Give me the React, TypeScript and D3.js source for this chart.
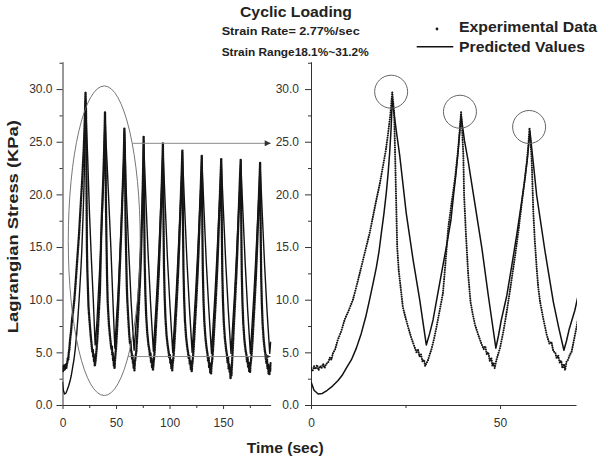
import { useEffect, useRef } from "react";
import * as d3 from "d3";

type Pt = [number, number]; // [time (s), stress (KPa)]

// experimental points, first 70 s (also shown in the zoomed panel)
const experimentalEarly: Pt[] = [
  [0, 3.5], [0.4, 3.2], [0.8, 3.7], [1.2, 3.4], [1.6, 3.8], [2.0, 3.3], [2.4, 3.7], [2.8, 3.5],
  [3.2, 3.9], [3.6, 3.5], [4.0, 3.9], [4.5, 4.0], [5.0, 4.5], [5.4, 4.3], [5.8, 4.9], [6.4, 5.3],
  [7.1, 6.2], [8.0, 7.0], [8.9, 8.1], [10.0, 9.0], [11.1, 10.0], [12.2, 11.5], [13.3, 13.1],
  [14.4, 14.7], [15.5, 16.3], [16.4, 17.9], [17.3, 19.5], [18.2, 21.0], [19.0, 22.6], [19.8, 24.2],
  [20.4, 25.8], [21.0, 27.6], [21.5, 29.7],
  [22.0, 27.7], [22.3, 23.0], [22.6, 18.2], [22.8, 15.0], [23.2, 12.8], [23.7, 11.2], [24.3, 9.3],
  [25.0, 8.3], [25.7, 7.4], [26.5, 6.4], [27.4, 5.5], [27.9, 5.0], [28.3, 5.3], [28.7, 4.6],
  [29.1, 4.8], [29.5, 4.1], [29.9, 4.3], [30.2, 3.7], [30.6, 4.0], [31.0, 4.3], [31.4, 4.8],
  [31.8, 5.2], [32.5, 6.2], [33.2, 7.4], [34.0, 8.9], [34.9, 10.6], [35.6, 13.6], [36.3, 16.8],
  [37.2, 19.2], [38.1, 21.5], [38.9, 24.2], [39.4, 26.3], [39.7, 27.8],
  [40.0, 26.0], [40.3, 23.7], [40.5, 19.9], [41.0, 16.1], [41.6, 12.3], [42.2, 9.8], [42.8, 8.6],
  [43.4, 7.6], [44.3, 6.6], [45.2, 5.7], [45.7, 5.3], [46.1, 5.6], [46.5, 4.8], [46.9, 5.0],
  [47.3, 4.2], [47.7, 4.5], [48.0, 3.7], [48.3, 4.0], [48.6, 3.5], [49.0, 4.2], [49.4, 4.7],
  [50.0, 5.4], [50.9, 7.0], [51.8, 8.9], [52.9, 11.5], [54.0, 14.2], [54.9, 16.6], [55.7, 19.0],
  [56.4, 21.0], [57.1, 23.1], [57.5, 24.7], [57.8, 26.3],
  [58.1, 25.0], [58.4, 23.1], [58.8, 18.4], [59.2, 15.6], [59.7, 13.0], [60.1, 11.2], [60.6, 9.8],
  [61.5, 8.1], [62.4, 6.6], [63.1, 5.8], [63.6, 6.0], [64.1, 5.1], [64.6, 5.0], [65.0, 4.4],
  [65.4, 4.7], [65.8, 4.0], [66.2, 4.2], [66.5, 3.5], [66.9, 3.9], [67.2, 3.3], [67.6, 4.1],
  [68.0, 4.3], [68.5, 4.8], [68.9, 5.0], [69.3, 5.7], [69.8, 6.6], [70.3, 7.5],
];

// experimental points, 70 s to the end (full-range panel only)
const experimentalLate: Pt[] = [
  [71.2, 9.2], [72.2, 11.3], [73.2, 13.8], [74.0, 16.6], [74.7, 19.5], [75.3, 22.3], [75.8, 25.5],
  [76.1, 22.0], [76.4, 17.5], [76.8, 13.5], [77.4, 10.6], [78.2, 8.4], [79.2, 6.8], [80.3, 5.7],
  [81.2, 5.2], [81.7, 4.6], [82.2, 4.9], [82.7, 4.1], [83.2, 4.4], [83.7, 3.6], [84.1, 3.9],
  [84.5, 3.3], [84.9, 3.8], [85.4, 4.3], [86.0, 5.0], [86.8, 6.4], [87.7, 8.2],
  [88.7, 10.0], [89.8, 12.3], [90.8, 14.9], [91.7, 17.6], [92.5, 20.1], [93.2, 22.5], [93.8, 24.85],
  [94.1, 21.5], [94.4, 17.0], [94.8, 13.2], [95.4, 10.4], [96.2, 8.2], [97.2, 6.6], [98.3, 5.6],
  [99.2, 5.0], [99.7, 4.5], [100.2, 4.8], [100.7, 4.0], [101.2, 4.3], [101.7, 3.5], [102.1, 3.8],
  [102.5, 3.3], [102.9, 3.9], [103.4, 4.3], [104.0, 5.0], [104.8, 6.3], [105.7, 8.0],
  [106.7, 9.8], [107.8, 12.1], [108.8, 14.6], [109.7, 17.2], [110.5, 19.6], [111.3, 22.0], [112.0, 24.2],
  [112.3, 21.0], [112.6, 16.6], [113.0, 12.9], [113.6, 10.2], [114.4, 8.0], [115.4, 6.5], [116.5, 5.5],
  [117.4, 4.9], [117.9, 4.4], [118.4, 4.7], [118.9, 3.9], [119.4, 4.2], [119.9, 3.4], [120.3, 3.7],
  [120.7, 3.2], [121.1, 3.8], [121.6, 4.2], [122.2, 4.9], [123.0, 6.2], [123.9, 7.9],
  [124.9, 9.7], [126.0, 12.0], [127.0, 14.4], [127.9, 17.0], [128.7, 19.4], [129.5, 21.7], [130.1, 23.7],
  [130.4, 20.6], [130.7, 16.3], [131.1, 12.7], [131.7, 10.0], [132.5, 7.9], [133.5, 6.4], [134.6, 5.4],
  [135.5, 4.8], [136.0, 4.2], [136.5, 4.6], [137.0, 3.6], [137.5, 4.0], [138.0, 3.1], [138.4, 3.6],
  [138.8, 3.0], [139.2, 3.7], [139.7, 4.1], [140.3, 4.8], [141.1, 6.1], [142.0, 7.8],
  [143.0, 9.6], [144.1, 11.9], [145.1, 14.3], [146.0, 16.9], [146.8, 19.2], [147.6, 21.5], [148.3, 23.4],
  [148.6, 20.3], [148.9, 16.1], [149.3, 12.5], [149.9, 9.9], [150.7, 7.8], [151.7, 6.3], [152.8, 5.3],
  [153.7, 4.7], [154.2, 4.0], [154.7, 4.5], [155.2, 3.4], [155.7, 3.9], [156.2, 3.1], [156.6, 3.5],
  [157.0, 2.5], [157.4, 3.6], [157.8, 2.8], [158.4, 4.0], [159.2, 5.6], [160.1, 7.6],
  [161.1, 9.6], [162.2, 11.9], [163.2, 14.3], [164.1, 16.8], [164.9, 19.1], [165.7, 21.4], [166.5, 23.3],
  [166.8, 20.2], [167.1, 16.0], [167.5, 12.4], [168.1, 9.8], [168.9, 7.7], [169.9, 6.2], [171.0, 5.2],
  [171.9, 4.7], [172.4, 4.1], [172.9, 4.5], [173.4, 3.6], [173.9, 4.0], [174.4, 3.2], [174.8, 3.7],
  [175.2, 3.1], [175.6, 3.8], [176.1, 4.2], [176.7, 4.9], [177.5, 6.1], [178.4, 7.8],
  [179.4, 9.6], [180.5, 11.8], [181.5, 14.2], [182.4, 16.7], [183.2, 19.0], [184.0, 21.2], [184.6, 23.0],
  [184.9, 20.0], [185.2, 15.9], [185.6, 12.3], [186.2, 9.7], [187.0, 7.6], [188.0, 6.1], [189.1, 5.1],
  [190.0, 4.6], [190.5, 4.0], [191.0, 4.4], [191.5, 3.5], [192.0, 3.9], [192.5, 3.0], [192.9, 3.6],
  [193.3, 2.9], [193.7, 3.7], [194.1, 3.2], [194.5, 4.0],
];

// model prediction, first 70 s
const predictedEarly: Pt[] = [
  [0, 2.2], [0.8, 1.4], [1.9, 1.05], [3.0, 1.1], [4.3, 1.4], [5.7, 1.8], [7.1, 2.3], [8.2, 2.8],
  [9.5, 3.6], [10.7, 4.3], [12.0, 5.4], [13.3, 6.8], [14.5, 8.4], [15.5, 10.0], [16.5, 11.7],
  [17.3, 13.1], [18.0, 14.6], [18.6, 16.3], [19.3, 18.2], [19.9, 20.1], [20.4, 22.0], [20.8, 23.9],
  [21.2, 26.3], [21.5, 29.0],
  [22.5, 26.2], [23.5, 23.6], [25.2, 18.2], [27.0, 13.8], [28.75, 10.0], [30.5, 5.7],
  [31.4, 6.8], [32.3, 8.1], [34.1, 11.7], [35.9, 15.2], [37.0, 17.5], [37.7, 19.9], [38.3, 21.8],
  [38.9, 24.0], [39.7, 27.5],
  [40.6, 25.1], [41.6, 23.1], [43.4, 19.0], [45.2, 14.9], [46.9, 10.4], [48.9, 5.4],
  [49.6, 6.6], [50.3, 8.0], [51.8, 10.4], [53.1, 13.2], [54.4, 16.1], [55.6, 19.0], [56.6, 21.5],
  [57.3, 23.6], [57.9, 26.0],
  [58.8, 23.0], [59.7, 19.9], [61.9, 14.6], [64.1, 9.8], [65.5, 7.4], [66.9, 5.2],
  [67.6, 6.1], [68.3, 7.2], [69.8, 9.0],
];

// model prediction, 70 s to the end
const predictedLate: Pt[] = [
  [71.5, 11.8], [73.2, 15.4], [74.5, 19.0], [75.3, 22.0], [75.8, 25.1],
  [77.8, 19.8], [80.0, 14.3], [82.3, 9.6], [84.9, 5.1],
  [86.5, 7.9], [88.2, 10.9], [90.0, 14.6], [91.6, 18.4], [93.0, 21.6], [93.8, 24.5],
  [95.8, 19.4], [98.0, 14.0], [100.4, 9.4], [103.0, 5.0],
  [104.6, 7.8], [106.3, 10.8], [108.1, 14.5], [109.8, 18.2], [111.2, 21.3], [112.0, 24.0],
  [114.0, 19.0], [116.2, 13.8], [118.6, 9.2], [121.1, 5.0],
  [122.7, 7.7], [124.4, 10.7], [126.2, 14.3], [127.9, 18.0], [129.3, 21.0], [130.1, 23.5],
  [132.1, 18.7], [134.3, 13.6], [136.7, 9.1], [139.2, 4.9],
  [140.8, 7.7], [142.5, 10.6], [144.3, 14.2], [146.0, 17.9], [147.5, 20.9], [148.3, 23.2],
  [150.3, 18.5], [152.5, 13.5], [154.9, 9.0], [157.4, 4.9],
  [159.0, 7.6], [160.7, 10.5], [162.5, 14.1], [164.2, 17.8], [165.7, 20.8], [166.5, 23.1],
  [168.5, 18.4], [170.7, 13.4], [173.0, 9.0], [175.5, 4.9],
  [177.1, 7.6], [178.8, 10.5], [180.6, 14.0], [182.3, 17.6], [183.8, 20.6], [184.6, 22.8],
  [186.6, 18.2], [188.8, 13.3], [191.1, 8.9], [193.6, 4.9], [194.5, 6.0],
];

const stressTicks = [0, 5, 10, 15, 20, 25, 30];
const stressMinorTicks = [2.5, 7.5, 12.5, 17.5, 22.5, 27.5, 32.5];
const fullTimeTicks = [0, 50, 100, 150];
const fullTimeMinorTicks = [25, 75, 125, 175];
const zoomTimeTicks = [0, 50];
const zoomTimeMinorTicks = [25];

// annotations (data units)
const zoomEllipse = { t: 39, v: 15.6, dt: 33.6, dv: 14.7 };
const guideLevels = [24.85, 4.6];
const circledPeaks: Pt[] = [[21.2, 29.75], [39.4, 27.85], [57.7, 26.4]];

const FONT = "'Liberation Sans', Arial, Helvetica, sans-serif";

export default function App() {
  const svgRef = useRef<SVGSVGElement>(null);

  useEffect(() => {
    if (!svgRef.current) return;
    const svg = d3.select(svgRef.current);
    svg.selectAll("*").remove();

    const experimental = [...experimentalEarly, ...experimentalLate];
    const predicted = [...predictedEarly, ...predictedLate];

    const y = d3.scaleLinear().domain([0, 32.6]).range([405, 61.7]);
    const xFull = d3.scaleLinear().domain([0, 194.5]).range([62.5, 270.7]);
    const xZoom = d3.scaleLinear().domain([0, 70.1]).range([311, 576]);

    const defs = svg.append("defs");
    defs
      .append("marker")
      .attr("id", "arrowHead")
      .attr("viewBox", "0 0 10 10")
      .attr("refX", 10)
      .attr("refY", 5)
      .attr("markerUnits", "userSpaceOnUse")
      .attr("markerWidth", 9)
      .attr("markerHeight", 6)
      .attr("orient", "auto")
      .append("path")
      .attr("d", "M0,0 L10,5 L0,10 Z")
      .attr("fill", "#333");

    const addClip = (id: string, x: d3.ScaleLinear<number, number>) => {
      const [x0, x1] = x.range();
      defs
        .append("clipPath")
        .attr("id", id)
        .append("rect")
        .attr("x", x0)
        .attr("y", 40)
        .attr("width", x1 - x0 + 1)
        .attr("height", 405 - 40);
    };
    addClip("clipFull", xFull);
    addClip("clipZoom", xZoom);

    const styleAxis = (g: d3.Selection<SVGGElement, unknown, null, undefined>) => {
      g.attr("font-family", FONT).attr("font-size", 12);
      g.selectAll(".domain").attr("stroke", "#333").attr("stroke-width", 1);
      g.selectAll(".tick line").attr("stroke", "#333");
      g.selectAll(".tick text").attr("fill", "#333");
    };

    const drawPanel = (
      x: d3.ScaleLinear<number, number>,
      xMajor: number[],
      xMinor: number[],
      yPadding: number,
      clipId: string,
      dotWidth: number,
      dotGap: number,
      lineWidth: number
    ) => {
      const panel = svg.append("g");

      // minor ticks
      panel
        .append("g")
        .attr("transform", `translate(0,${y.range()[0]})`)
        .call(d3.axisBottom(x).tickValues(xMinor).tickSize(3).tickFormat(() => ""))
        .call((g) => g.select(".domain").remove())
        .call(styleAxis);
      panel
        .append("g")
        .attr("transform", `translate(${x.range()[0]},0)`)
        .call(d3.axisLeft(y).tickValues(stressMinorTicks).tickSize(3).tickFormat(() => ""))
        .call((g) => g.select(".domain").remove())
        .call(styleAxis);

      // major axes
      panel
        .append("g")
        .attr("transform", `translate(0,${y.range()[0]})`)
        .call(
          d3
            .axisBottom(x)
            .tickValues(xMajor)
            .tickSize(4)
            .tickSizeOuter(0)
            .tickPadding(9)
            .tickFormat(d3.format("d"))
        )
        .call(styleAxis);
      panel
        .append("g")
        .attr("transform", `translate(${x.range()[0]},0)`)
        .call(
          d3
            .axisLeft(y)
            .tickValues(stressTicks)
            .tickSize(6)
            .tickSizeOuter(0)
            .tickPadding(yPadding)
            .tickFormat(d3.format(".1f"))
        )
        .call(styleAxis);

      const plot = panel.append("g").attr("clip-path", `url(#${clipId})`);
      const line = d3
        .line<Pt>()
        .x((d) => x(d[0]))
        .y((d) => y(d[1]));

      plot
        .append("path")
        .attr("d", line(predicted))
        .attr("fill", "none")
        .attr("stroke", "#111")
        .attr("stroke-width", lineWidth)
        .attr("stroke-linejoin", "round");

      plot
        .append("path")
        .attr("d", line(experimental))
        .attr("fill", "none")
        .attr("stroke", "#151515")
        .attr("stroke-width", dotWidth)
        .attr("stroke-linecap", "round")
        .attr("stroke-dasharray", `0 ${dotGap}`);

      return panel;
    };

    const full = drawPanel(xFull, fullTimeTicks, fullTimeMinorTicks, 4, "clipFull", 2.5, 1.7, 1.4);
    const zoom = drawPanel(xZoom, zoomTimeTicks, zoomTimeMinorTicks, 6, "clipZoom", 2.1, 2.3, 1.5);

    // ellipse marking the zoomed window
    const cx = xFull(zoomEllipse.t);
    const cy = y(zoomEllipse.v);
    const rx = xFull(zoomEllipse.t + zoomEllipse.dt) - cx;
    const ry = y(zoomEllipse.v - zoomEllipse.dv) - cy;
    full
      .append("ellipse")
      .attr("cx", cx)
      .attr("cy", cy)
      .attr("rx", rx)
      .attr("ry", ry)
      .attr("fill", "none")
      .attr("stroke", "#666")
      .attr("stroke-width", 0.9);

    // guide arrows towards the zoomed panel
    guideLevels.forEach((v) => {
      const k = (v - zoomEllipse.v) / zoomEllipse.dv;
      const tEdge = zoomEllipse.t + zoomEllipse.dt * Math.sqrt(1 - k * k);
      full
        .append("line")
        .attr("x1", xFull(tEdge))
        .attr("x2", xFull.range()[1])
        .attr("y1", y(v))
        .attr("y2", y(v))
        .attr("stroke", "#8a8a8a")
        .attr("stroke-width", 1)
        .attr("marker-end", "url(#arrowHead)");
    });

    // circled peaks in the zoomed panel
    zoom
      .selectAll(".peak-ring")
      .data(circledPeaks)
      .join("circle")
      .attr("class", "peak-ring")
      .attr("cx", (d) => xZoom(d[0]))
      .attr("cy", (d) => y(d[1]))
      .attr("r", 16.5)
      .attr("fill", "none")
      .attr("stroke", "#666")
      .attr("stroke-width", 1);

    // titles
    const addText = (
      txt: string,
      x: number,
      yy: number,
      size: number,
      length: number,
      anchor = "start"
    ) =>
      svg
        .append("text")
        .attr("x", x)
        .attr("y", yy)
        .attr("font-family", FONT)
        .attr("font-size", size)
        .attr("font-weight", "bold")
        .attr("fill", "#222")
        .attr("text-anchor", anchor)
        .attr("textLength", length)
        .attr("lengthAdjust", "spacingAndGlyphs")
        .text(txt);

    addText("Cyclic Loading", 296, 16.7, 15.5, 112, "middle");
    addText("Strain Rate= 2.77%/sec", 221.7, 35, 11.5, 138);
    addText("Strain Range18.1%~31.2%", 221.7, 56, 11.5, 147);
    addText("Experimental Data", 459, 31.7, 15.5, 138);
    addText("Predicted Values", 459, 51.7, 15.5, 126);
    addText("Time (sec)", 246.7, 452.7, 15.5, 77);
    addText("Lagrangian Stress (KPa)", 0, 0, 15.5, 213, "middle").attr(
      "transform",
      "translate(17.7,226.7) rotate(-90)"
    );

    // legend marks
    svg.append("circle").attr("cx", 437).attr("cy", 29).attr("r", 1.4).attr("fill", "#1a1a1a");
    svg
      .append("line")
      .attr("x1", 416.7)
      .attr("x2", 453.3)
      .attr("y1", 46.7)
      .attr("y2", 46.7)
      .attr("stroke", "#111")
      .attr("stroke-width", 1.5);
  }, []);

  return (
    <svg
      ref={svgRef}
      width={600}
      height={463}
      style={{ position: "absolute", left: 0, top: 0, background: "#fff" }}
    />
  );
}
